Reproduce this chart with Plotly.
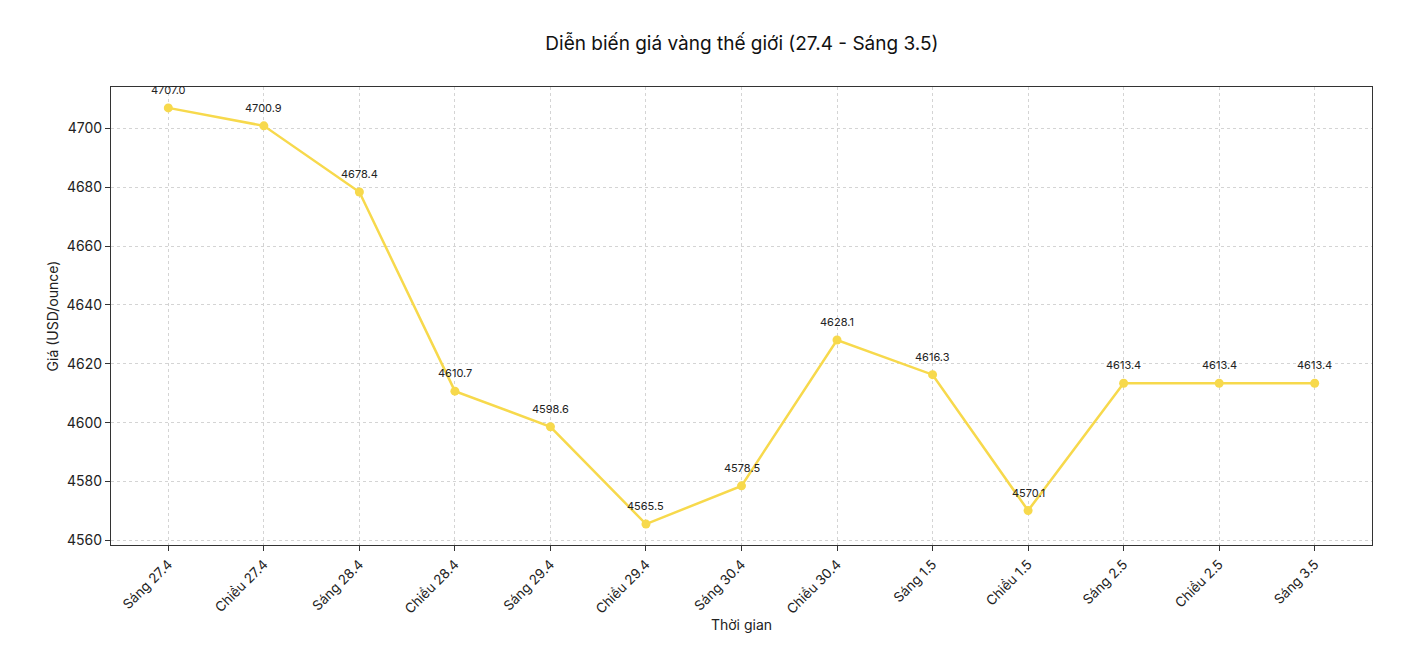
import plotly.graph_objects as go

categories = ["Sáng 27.4", "Chiều 27.4", "Sáng 28.4", "Chiều 28.4", "Sáng 29.4", "Chiều 29.4",
              "Sáng 30.4", "Chiều 30.4", "Sáng 1.5", "Chiều 1.5", "Sáng 2.5", "Chiều 2.5", "Sáng 3.5"]
prices = [4707.0, 4700.9, 4678.4, 4610.7, 4598.6, 4565.5, 4578.5, 4628.1, 4616.3, 4570.1, 4613.4, 4613.4, 4613.4]
y_ticks = [4560, 4580, 4600, 4620, 4640, 4660, 4680, 4700]

FONT = "Inter"
color = "#F7D94C"

xs = list(range(len(categories)))

fig = go.Figure()
fig.add_trace(go.Scatter(
    x=xs, y=prices,
    mode="lines+markers",
    line=dict(color=color, width=2.5),
    marker=dict(color=color, size=9),
    cliponaxis=False,
    hoverinfo="x+y",
))
for xi, v in zip(xs, prices):
    fig.add_annotation(x=xi, y=v, text=f"{v:.1f}", showarrow=False, yshift=18,
                       font=dict(family=FONT, size=11, color="#222"))

fig.update_layout(
    width=1406, height=660,
    paper_bgcolor="white", plot_bgcolor="white",
    margin=dict(l=103, r=42, t=79, b=123),
    showlegend=False,
    title=dict(text="Diễn biến giá vàng thế giới (27.4 - Sáng 3.5)", x=0.522, xanchor="center",
               y=0.947, yanchor="middle", font=dict(family=FONT, size=19, color="#111")),
    font=dict(family=FONT, color="#222"),
)
grid = dict(showgrid=True, gridcolor="#d4d4d4", griddash="3px,3px", gridwidth=1)
fig.update_xaxes(
    range=[-0.6, 12.6],
    tickmode="array", tickvals=xs, ticktext=categories,
    tickangle=-45, tickfont=dict(size=13.5, color="#222"),
    ticks="outside", ticklen=5, tickcolor="#333",
    showline=True, linecolor="#333", linewidth=1.2, mirror=True,
    zeroline=False,
    title=dict(text="Thời gian", font=dict(size=14, color="#222"), standoff=4),
    **grid,
)
fig.update_yaxes(
    range=[4558.4, 4714.1],
    tickmode="array", tickvals=y_ticks, ticktext=[str(v) for v in y_ticks],
    tickfont=dict(size=14, color="#222"),
    ticks="outside", ticklen=5, tickcolor="#333",
    showline=True, linecolor="#333", linewidth=1.2, mirror=True,
    zeroline=False,
    title=dict(text="Giá (USD/ounce)", font=dict(size=14, color="#222"), standoff=4),
    **grid,
)

fig.write_html("out.html")
